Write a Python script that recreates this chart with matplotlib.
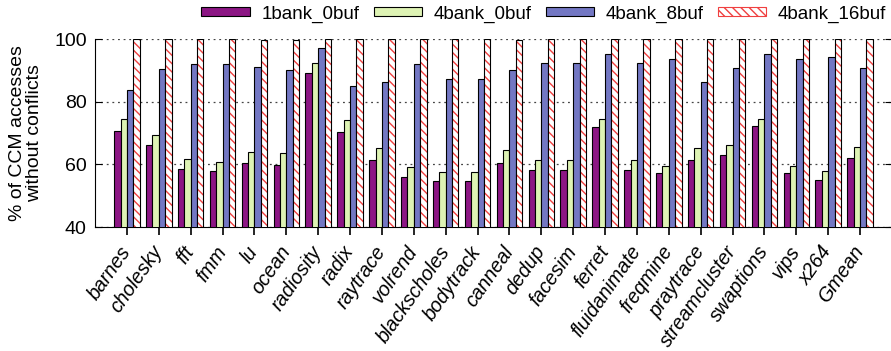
import numpy as np
import matplotlib
matplotlib.use("Agg")
import matplotlib.pyplot as plt
from matplotlib.patches import Patch

plt.rcParams['font.family'] = ['Liberation Sans', 'DejaVu Sans']
plt.rcParams['hatch.linewidth'] = 1.0

benchmarks = ['barnes', 'cholesky', 'fft', 'fmm', 'lu', 'ocean', 'radiosity', 'radix',
              'raytrace', 'volrend', 'blackscholes', 'bodytrack', 'canneal', 'dedup',
              'facesim', 'ferret', 'fluidanimate', 'freqmine', 'praytrace',
              'streamcluster', 'swaptions', 'vips', 'x264', 'Gmean']

bank1_buf0 = [70.6, 66.1, 58.5, 57.8, 60.5, 59.8, 89.1, 70.3, 61.5, 56.1, 54.8, 54.8,
              60.5, 58.2, 58.2, 72.0, 58.2, 57.2, 61.4, 63.0, 72.1, 57.3, 55.0, 62.0]
bank4_buf0 = [74.4, 69.5, 61.7, 60.6, 63.8, 63.6, 92.3, 74.1, 65.2, 59.1, 57.5, 57.5,
              64.5, 61.4, 61.4, 74.6, 61.4, 59.5, 65.2, 66.2, 74.6, 59.5, 57.8, 65.4]
bank4_buf8 = [83.8, 90.3, 91.9, 92.0, 91.0, 90.0, 97.0, 85.0, 86.2, 92.0, 87.1, 87.1,
              90.0, 92.2, 92.2, 95.1, 92.2, 93.7, 86.2, 90.6, 95.1, 93.7, 94.2, 90.8]
bank4_buf16 = [100, 100, 100, 100, 99.8, 99.6, 100, 100, 100, 100, 100, 100,
               99.6, 100, 100, 100, 100, 100, 100, 100, 100, 100, 100, 100]

series_names = ['1bank_0buf', '4bank_0buf', '4bank_8buf', '4bank_16buf']
purple, green, blue, red = '#8c1684', '#def3b4', '#7377c3', '#f04040'
hatch = '\\\\\\\\'

x = np.arange(len(benchmarks))
w = 0.2

fig = plt.figure(figsize=(8.91, 3.51), dpi=100)
ax = fig.add_axes([95 / 891, 124 / 351, 797 / 891, 188 / 351])

ax.bar(x - 1.5 * w, bank1_buf0, w, color=purple, edgecolor='black', linewidth=0.8, zorder=3)
ax.bar(x - 0.5 * w, bank4_buf0, w, color=green, edgecolor='black', linewidth=0.8, zorder=3)
ax.bar(x + 0.5 * w, bank4_buf8, w, color=blue, edgecolor='black', linewidth=0.8, zorder=3)
# hatched bars: red hatch first, then a black outline on top
ax.bar(x + 1.5 * w, bank4_buf16, w, color='white', edgecolor=red, hatch=hatch,
       linewidth=0, zorder=3)
ax.bar(x + 1.5 * w, bank4_buf16, w, fill=False, edgecolor='black', linewidth=0.8, zorder=4)

ax.set_xlim(-1, 24)
ax.set_ylim(40, 100)
ax.set_yticks([40, 60, 80, 100])
ax.yaxis.grid(True, linestyle=(0, (1.5, 3)), color='#444444', linewidth=0.9, zorder=0)
ax.spines['top'].set_visible(False)
ax.spines['right'].set_visible(False)
ax.tick_params(axis='y', direction='in', length=5, labelsize=14, right=True, pad=6)
ax.tick_params(axis='x', direction='out', length=6, width=1.2, pad=9)
ax.set_xticks(x)
ax.set_xticklabels(benchmarks, rotation=55, ha='right', va='center',
                   rotation_mode='anchor', style='italic', fontsize=14.2)
ax.set_ylabel('% of CCM accesses\nwithout conflicts', fontsize=14, linespacing=1.0,
              labelpad=8)

handles = [Patch(facecolor=purple, edgecolor='black', linewidth=0.8),
           Patch(facecolor=green, edgecolor='black', linewidth=0.8),
           Patch(facecolor=blue, edgecolor='black', linewidth=0.8),
           Patch(facecolor='white', edgecolor=red, hatch=hatch, linewidth=0.8)]
fig.legend(handles, series_names,
           loc='center right', bbox_to_anchor=(886 / 891, 1 - 14 / 351), ncol=4,
           frameon=False, fontsize=13.5, handlelength=2.6, handleheight=0.4,
           handletextpad=0.6, columnspacing=0.75, borderpad=0, borderaxespad=0)

fig.savefig('out.png', dpi=100)
